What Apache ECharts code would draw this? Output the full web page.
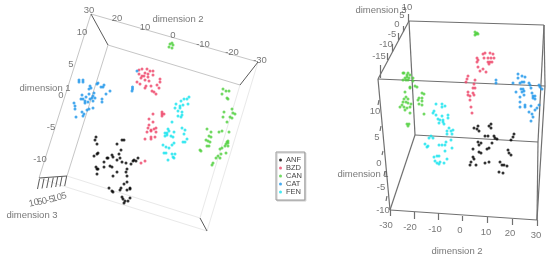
<!DOCTYPE html>
<html><head><meta charset="utf-8">
<style>html,body{margin:0;padding:0;background:#fff}#c{width:550px;height:262px}</style>
<script src="https://cdn.jsdelivr.net/npm/echarts@6/dist/echarts.min.js"></script>
</head><body><div id="c"></div>
<script>
const groups = ['ANF','BZD','CAN','CAT','FEN'];
const colors = ['#000000','#ee4468','#4fd03c','#1b95ea','#14e4ee'];

// points, left panel then right panel
const anfLeft = [[96,137],[95,140],[97,144],[122,140],[124,140],[117,144],[121,150],[98,153],[97,154],[94,156],[112,155],[113,157],[108,158],[107,158],[104,162],[119,154],[120,158],[117,160],[122,162],[126,163],[131,164],[133,161],[134,160],[136,161],[138,158],[96,167],[98,169],[97,169],[97,174],[104,167],[110,166],[112,167],[117,172],[113,176],[127,169],[126,172],[127,176],[127,182],[124,184],[109,188],[112,191],[113,192],[121,188],[120,190],[127,190],[130,188],[130,189],[122,197],[123,199],[130,198],[125,201],[124,203],[128,201]];
const anfRight = [[478,126],[474,128],[477,129],[479,131],[491,124],[489,126],[491,128],[485,136],[488,136],[494,136],[495,138],[497,139],[478,142],[481,143],[479,145],[489,148],[487,149],[492,143],[473,149],[479,152],[481,153],[473,157],[474,159],[471,162],[470,165],[476,165],[485,163],[489,162],[500,162],[499,172],[514,134],[513,137],[511,140],[508,150],[509,153],[511,155],[502,165],[504,165],[507,166],[503,173]];
const bzdLeft = [[139,70],[142,69],[147,69],[150,71],[153,71],[139,74],[142,76],[145,73],[148,74],[144,76],[148,77],[153,75],[141,78],[145,80],[149,81],[160,79],[160,82],[137,82],[140,84],[146,86],[145,88],[151,86],[157,85],[159,88],[152,91],[154,92],[156,94],[153,114],[162,112],[162,114],[164,114],[162,116],[149,119],[153,122],[149,125],[148,128],[151,130],[154,129],[156,128],[156,132],[147,132],[151,131],[155,137],[151,137],[151,139],[145,139],[141,163],[145,161]];
const bzdRight = [[483,54],[485,53],[490,53],[493,54],[484,58],[488,58],[491,58],[494,58],[477,58],[478,60],[477,62],[488,62],[490,62],[492,62],[489,64],[478,67],[483,69],[480,71],[486,72],[468,76],[467,79],[466,82],[475,80],[474,84],[473,88],[475,88],[468,92],[473,93],[468,95],[470,96],[474,95],[470,100],[471,107],[472,113]];
const canLeft = [[170,44],[172,43],[173,45],[169,47],[172,48],[223,89],[226,91],[229,91],[222,94],[227,98],[228,99],[232,109],[224,112],[233,113],[235,114],[223,117],[230,117],[232,118],[227,122],[207,129],[211,132],[219,132],[222,131],[229,132],[209,136],[211,137],[206,140],[208,141],[210,142],[228,141],[227,142],[226,144],[228,143],[225,146],[228,146],[209,146],[207,146],[200,150],[201,151],[222,148],[220,149],[226,153],[221,154],[218,156],[216,158],[220,158],[213,163],[212,165]];
const canRight = [[475,32],[477,33],[476,34],[475,35],[478,34],[403,73],[404,73],[408,73],[407,75],[410,75],[405,78],[407,77],[409,78],[403,80],[406,80],[408,80],[413,78],[413,81],[405,92],[410,87],[410,88],[415,86],[417,87],[422,93],[424,94],[406,97],[404,99],[408,99],[403,102],[406,102],[408,103],[402,105],[400,107],[404,107],[411,104],[410,107],[407,108],[405,110],[419,98],[422,98],[418,100],[422,101],[419,104],[422,105],[410,113],[424,114],[407,124],[409,124],[408,126]];
const catLeft = [[79,80],[83,80],[79,82],[83,82],[90,86],[91,88],[89,89],[98,83],[97,84],[104,85],[103,87],[101,87],[110,91],[106,94],[89,94],[94,93],[93,96],[95,98],[82,95],[81,99],[83,99],[86,97],[90,99],[88,102],[85,103],[93,101],[74,103],[75,106],[75,109],[102,99],[102,102],[93,108],[89,109],[87,110],[82,112],[84,114],[83,116],[76,117],[85,101],[92,98],[137,71],[132.5,87],[132.5,89],[132,91]];
const catRight = [[496,80],[496,83],[518,74],[518,78],[522,76],[525,77],[513,83],[520,83],[522,82],[524,82],[529,83],[530,85],[531,88],[539,85],[540,87],[542,89],[516,92],[521,89],[523,89],[524,91],[522,92],[524,95],[532,93],[533,96],[535,96],[533,98],[535,99],[520,97],[520,102],[520,107],[525,105],[525,107],[531,106],[537,108],[539,105],[535,110],[529,112],[532,114],[533,117],[531,121]];
const fenLeft = [[189,97],[187,99],[184,99],[181,101],[176,104],[180,106],[183,105],[188,104],[175,108],[180,108],[178,111],[182,112],[182,115],[178,116],[181,117],[172,122],[168,129],[169,131],[165,133],[167,133],[165,136],[167,135],[174,132],[171,136],[173,137],[182,128],[185,130],[184,134],[187,139],[185,142],[183,142],[174,143],[163,145],[166,147],[169,148],[172,145],[164,153],[166,153],[172,154],[175,154],[173,157],[174,158],[168,160]];
const fenRight = [[436,104],[442,104],[445,106],[442,107],[434,111],[433,113],[436,115],[442,116],[448,115],[448,118],[438,119],[440,120],[443,120],[439,123],[443,122],[444,124],[449,128],[447,131],[451,131],[453,130],[452,134],[447,134],[431,136],[433,138],[429,138],[425,144],[427,147],[428,146],[439,145],[442,145],[446,142],[445,145],[451,140],[452,148],[445,151],[437,156],[434,157],[439,156],[447,159],[440,162],[435,161],[437,163],[439,164],[444,163]];

// frame edges of the two projected boxes
const edgesLight = [[[91,14],[258,62]],[[108,45],[240,85]],[[91,14],[39,178]],[[108,45],[67,176]]];
const edgesFaint = [[[67,176],[200,218]],[[60,185],[207,231]],[[240,85],[200,218]],[[258,62],[207,231]],[[39,178],[60,185]]];
const edgesDark = [[[91,14],[108,45]],[[258,62],[240,85]],[[200,218],[207,231]],[[39,178],[67,176]],
  [[39.5,179],[37.5,189]],[[44,178.5],[42,188.5]],[[48.7,178],[46.7,188]],[[53.3,177.5],[51.3,187.5]],[[57.7,177],[55.7,187]],[[62,176.5],[60,186.5]],[[66.7,176],[64.7,186]]];
const edgesBox = [[[409,21],[544,25]],[[378,79],[545,86]],[[409,21],[378,79]],[[409,21],[415,135]],[[415,135],[538,142]],[[378,79],[390,210]],[[390,210],[537,220]],[[415,135],[390,210]],[[544,25],[538,142]],[[545,86],[537,220]],[[537,220],[538,142]],[[544,25],[545,86]],
  [[408,14],[408,22]],[[403,26],[403,32]],[[398,33],[398,40]],[[392,44],[392,52]],[[387,53],[387,60]],[[380,65],[380,78]],
  [[379,100],[378,105]],[[381,126],[380,131]],[[383,151],[382,155]],[[385,171],[384,176]],[[387,196],[386,201]],
  [[390,210],[390,216]],[[414,212],[414,219]],[[438,213],[438,220]],[[462,216],[462,221]],[[487,217],[487,223]],[[512,219],[512,225]],[[537,220],[537,226]]];

// texts and their anchors
const labels = ['30','20','10','0','-10','-20','-30','dimension 2','10','5','dimension 1','0','-5','-10','dimension 3',
  'dimension 3','10','5','0','-5','-10','-15','10','5','0','-5','-10','dimension 1','-30','-20','-10','0','10','20','30','dimension 2'];
const labelAnchors = [[89,10],[117,18],[145,27],[173,35],[203,44],[232,52],[260,60],[178,19],[82,32],[71,64],[45,88],[61,95],[51,127],[40,159],[32,215],
  [381,10],[407,7],[402,15],[397,24],[392,34],[386,44],[379,56],[375,111],[377,137],[379,163],[381,187],[383,210],[363,174],[386,225],[410,227],[435,229],[460,230],[486,232],[510,233],[536,235],[457,251]];
const slantedLabels = ['10','5','0','-5','10','5'];
const slantedAnchors = [[34,203],[40,202],[44.5,201],[50,200],[57,198],[64,196]];

const series = [];
const addEdges = (edges, color, width) => series.push({type:'lines', coordinateSystem:'cartesian2d', silent:true, z:1,
  data: edges.map(e => ({coords:e})), lineStyle:{color, width, opacity:1}});
addEdges(edgesFaint,'#e9e9e9',1);
addEdges(edgesLight,'#c6c6c6',1);
addEdges(edgesDark,'#5a5a5a',1);
addEdges(edgesBox,'#707070',1.2);
const pointSets = [anfLeft.concat(anfRight), bzdLeft.concat(bzdRight), canLeft.concat(canRight), catLeft.concat(catRight), fenLeft.concat(fenRight)];
groups.forEach((g,i) => series.push({type:'scatter', name:g, data:pointSets[i], symbol:'circle', symbolSize:3, z:3,
  itemStyle:{color:colors[i]}}));
series.push({type:'scatter', silent:true, symbolSize:0, z:4,
  data: labels.map((t,i) => ({value:labelAnchors[i], name:t}))
    .concat(slantedLabels.map((t,i) => ({value:slantedAnchors[i], name:t, label:{rotate:13}}))),
  label:{show:true, position:'inside', formatter:p => p.name, fontFamily:'Liberation Sans', fontSize:9.5, color:'#555555'}});

const chart = echarts.init(document.getElementById('c'), null, {renderer:'canvas'});
chart.setOption({
  animation:false, backgroundColor:'#ffffff',
  grid:{left:0,right:0,top:0,bottom:0},
  xAxis:{type:'value', min:0, max:550, show:false},
  yAxis:{type:'value', min:0, max:262, inverse:true, show:false},
  legend:{data:groups, orient:'vertical', left:276, top:152, icon:'circle', itemWidth:3, itemHeight:3, itemGap:0,
    padding:[4,3,4,3], borderColor:'#999999', borderWidth:1, backgroundColor:'#fff', selectedMode:false,
    shadowColor:'#cccccc', shadowOffsetX:1, shadowOffsetY:1, shadowBlur:0,
    textStyle:{fontFamily:'Liberation Sans', fontSize:7.5, color:'#444', padding:[0,0,0,-1], lineHeight:8}},
  series
});
</script></body></html>
